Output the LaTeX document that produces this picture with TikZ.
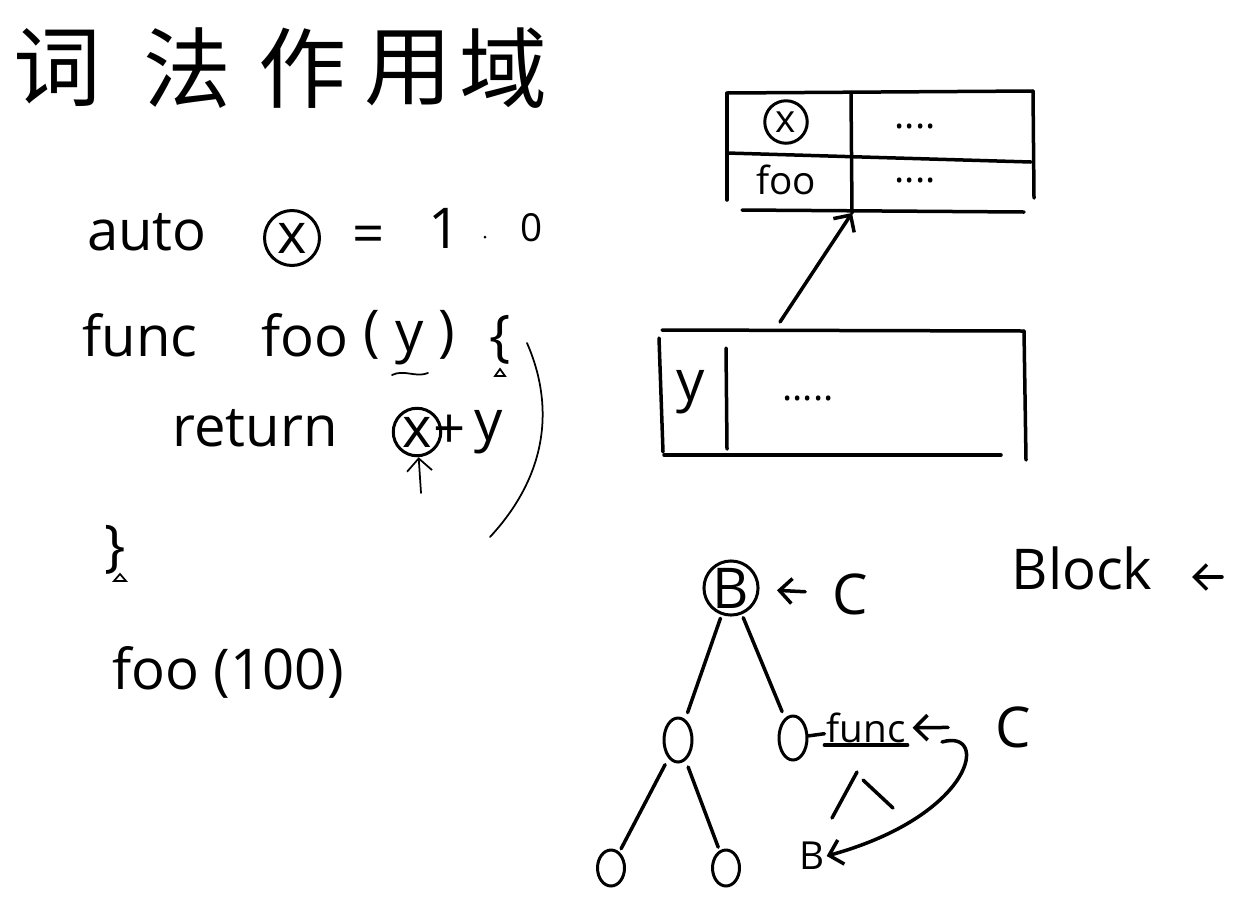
\documentclass[tikz,border=0pt]{standalone}
\usepackage{fontspec}
\setmainfont{Open Sans}
\newfontfamily\cjk{Noto Sans CJK SC}
\usetikzlibrary{arrows.meta,shapes.geometric,positioning}
\tikzset{
  ink/.style={line width=0.7mm, color=black, line cap=round},
  thin ink/.style={line width=0.35mm, color=black, line cap=round},
  code/.style={color=black, inner sep=1pt, font=\fontsize{32}{36}\selectfont},
  small code/.style={color=black, inner sep=1pt, font=\fontsize{22}{26}\selectfont},
  ringed/.style={circle, draw, line width=0.6mm, inner sep=0pt},
  leaf/.style={ellipse, draw, line width=0.6mm, minimum width=0.56cm, minimum height=0.88cm},
  barb/.style={-{Straight Barb[length=2.5mm, width=5mm]}},
}

\begin{document}
\begin{tikzpicture}[x=0.02cm, y=-0.02cm]

\useasboundingbox (0,0) rectangle (1247,907);

% title
\foreach \c/\x [count=\i] in {词/57,法/187,作/302,用/408,域/503} {
    \node[color=black, font=\cjk\fontsize{50}{56}\selectfont] (t\i) at (\x,68) {\c};
};

% code on the left
\node[code] (auto) at (147,232) {auto};
\node[code, ringed, minimum size=1.1cm] (x1) at (292,238) {x};
\node[code] (eq) at (369,240) {=};
\node[code] (one) at (445,228) {1};
\fill[black] (485,237) circle[radius=1.5];
\node[small code] (zero) at (532,228) {0};

\node[code] (func) at (140,335) {func};
\node[code] (foo) at (305,335) {foo};
\node[code] (lp) at (372,335) {(};
\node[code] (y1) at (410,343) {y};
\node[code] (rp) at (447,335) {)};
\node[code] (lb) at (500,340) {\{};
\draw[thin ink] (392,375) .. controls (404,369) and (416,378) .. (428,373);
\draw[thin ink] (495,376) -- (500,369) -- (505,376) -- cycle;

\node[code] (ret) at (255,428) {return};
\node[code, ringed, minimum size=0.95cm] (x2) at (417,432) {x};
\node[code] (plus) at (450,432) {+};
\node[code] (y2) at (489,432) {y};
\coordinate (x2foot) at (421,493);
\draw[thin ink, barb] (x2foot) -- (x2);

\draw[thin ink] (527,343) .. controls (552,400) and (552,470) .. (490,537);

\node[code] (rb) at (115,550) {\}};
\draw[thin ink] (114,581) -- (120,574) -- (126,581) -- cycle;

\node[code] (call) at (228,672) {foo (100)};

% table of the outer scope
\coordinate (ta) at (727,93);
\coordinate (tb) at (1033,91);
\coordinate (tc) at (727,153);
\coordinate (td) at (1031,162);
\coordinate (te) at (742,210);
\coordinate (tf) at (1024,212);
\coordinate (tg) at (851,93);
\coordinate (th) at (852,213);
\draw[ink] (ta) -- (tb);
\draw[ink] (tc) -- (td);
\draw[ink] (te) -- (tf);
\draw[ink] (ta) -- (727,200);
\draw[ink] (tg) -- (th);
\draw[ink] (tb) -- (1034,198);

\node[small code, ringed, minimum size=0.85cm] (x3) at (786,122) {x};
\node[small code] (foo2) at (786,180) {foo};
\node[small code] (dots1) at (915,126) {....};
\node[small code] (dots2) at (915,180) {....};

% table of foo
\coordinate (ua) at (662,330);
\coordinate (ub) at (1024,331);
\coordinate (uc) at (664,455);
\coordinate (ud) at (1001,455);
\draw[ink] (ua) -- (ub);
\draw[ink] (uc) -- (ud);
\draw[ink] (659,338) -- (663,452);
\draw[ink] (726,348) -- (727,449);
\draw[ink] (ub) -- (1026,460);
\node[code] (y3) at (691,392) {y};
\node[small code] (dots3) at (808,398) {.....};

\coordinate (link) at (780,322);
\draw[ink, barb] (link) -- (th);

% scope tree
\node[code, ringed, minimum size=0.75cm] (root) at (731,588) {B};
\node[code] (c1) at (850,594) {C};
\draw[ink, barb, shorten <=0.5cm, shorten >=0.35cm] (c1) -- (root);

\node[leaf] (n1) at (678,740) {};
\node[leaf] (n2) at (793,738) {};
\node[leaf, minimum width=0.54cm, minimum height=0.72cm] (n3) at (611,868) {};
\node[leaf, minimum width=0.54cm, minimum height=0.72cm] (n4) at (726,868) {};
\draw[ink, shorten <=2pt, shorten >=4pt] (root) -- (n1);
\draw[ink, shorten <=2pt, shorten >=4pt] (root) -- (n2);
\draw[ink, shorten <=4pt, shorten >=2pt] (n1) -- (n3);
\draw[ink, shorten <=4pt, shorten >=2pt] (n1) -- (n4);

\node[small code] (fn) at (866,728) {func};
\draw[ink] (fn.south west) -- (fn.south east);
\draw[ink] (n2) -- (fn);
\draw[ink] (857,772) -- (832,818);
\draw[ink] (863,780) -- (893,808);
\node[small code] (b2) at (812,856) {B};

\node[code] (c2) at (1013,727) {C};
\draw[ink, barb, shorten <=0.9cm, shorten >=0.1cm] (c2) -- (fn);
\coordinate (hook) at (942,742);
\draw[ink, barb] (hook) .. controls (990,728) and (975,815) .. (b2.east);

\node[code] (blk) at (1082,568) {Block};
\coordinate (blkarr) at (1222,577);
\coordinate (blktip) at (1192,577);
\draw[ink, barb] (blkarr) -- (blktip);

\end{tikzpicture}
\end{document}
